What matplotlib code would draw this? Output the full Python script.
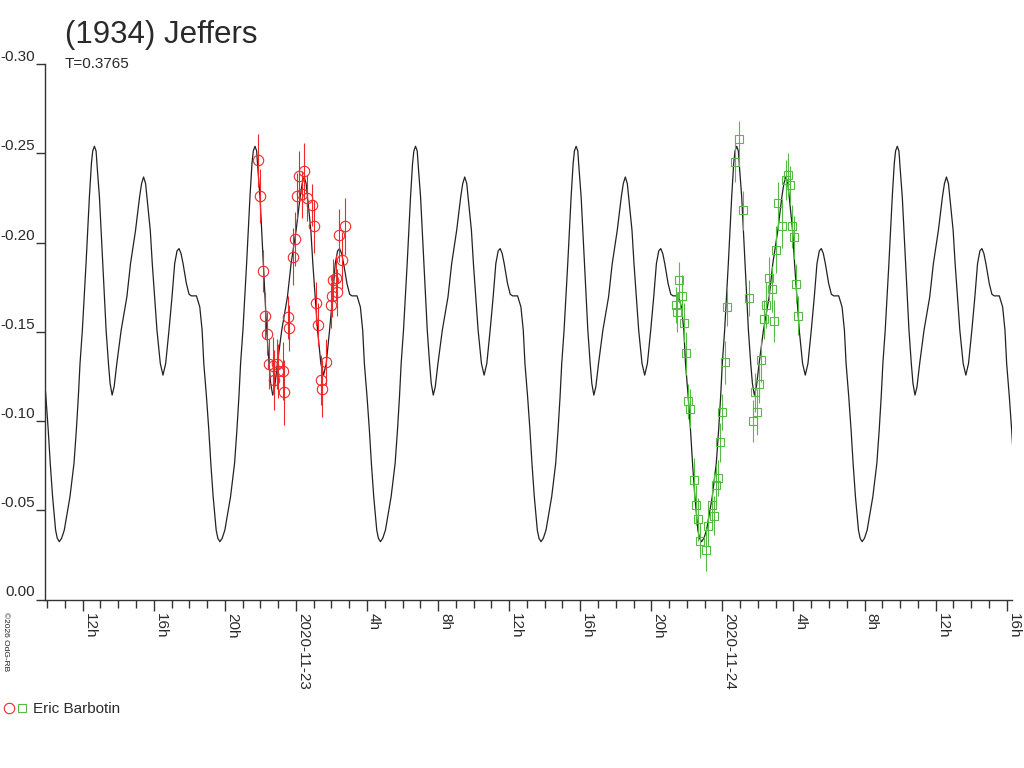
import numpy as np
import pandas as pd
import matplotlib
matplotlib.use("Agg")
import matplotlib.pyplot as plt
import matplotlib.dates as mdates
from matplotlib.ticker import FuncFormatter, FixedLocator
from matplotlib.legend_handler import HandlerTuple

plt.rcParams["font.family"] = ["Liberation Sans", "DejaVu Sans"]
plt.rcParams["axes.unicode_minus"] = False

# --- lightcurve model, one rotation cycle (phase 0 = main maximum)
period_days = 0.3765
t0_hours = 12.66  # hours after 2020-11-22 00:00 UT
cycle_phase = [0.0, 0.0104, 0.0188, 0.0313, 0.0521, 0.0729, 0.0875, 0.0979, 0.1104,
               0.1229, 0.1396, 0.1667, 0.2021, 0.2250, 0.2563, 0.2813, 0.2938, 0.3063,
               0.3188, 0.3271, 0.3479, 0.3604, 0.3750, 0.3896, 0.4104, 0.4271, 0.4438,
               0.4646, 0.4833, 0.5000, 0.5146, 0.5271, 0.5396, 0.5521, 0.5729, 0.5896,
               0.6042, 0.6354, 0.6563, 0.6708, 0.6813, 0.6979, 0.7125, 0.7250, 0.7396,
               0.7583, 0.7688, 0.7813, 0.7958, 0.8125, 0.8479, 0.8729, 0.8875, 0.9000,
               0.9104, 0.9250, 0.9479, 0.9688, 0.9813, 0.9896]
cycle_mag = [-0.2539, -0.2513, -0.2405, -0.2255, -0.1882, -0.1509, -0.1322, -0.1210, -0.1145,
             -0.1192, -0.1322, -0.1509, -0.1695, -0.1882, -0.2069, -0.2255, -0.2330, -0.2367,
             -0.2330, -0.2255, -0.2069, -0.1882, -0.1695, -0.1509, -0.1322, -0.1257, -0.1322,
             -0.1509, -0.1695, -0.1882, -0.1953, -0.1966, -0.1938, -0.1882, -0.1770, -0.1710,
             -0.1701, -0.1701, -0.1639, -0.1509, -0.1322, -0.1136, -0.0949, -0.0763, -0.0576,
             -0.0389, -0.0343, -0.0324, -0.0343, -0.0389, -0.0576, -0.0763, -0.0949, -0.1136,
             -0.1322, -0.1509, -0.1882, -0.2255, -0.2442, -0.2513]

# --- observations (hours after 2020-11-22 00:00 UT, relative mag, error)
red_hours = [21.88, 21.99, 22.13, 22.26, 22.35, 22.48, 22.73, 22.78, 22.92, 23.01, 23.29, 23.31,
             23.54, 23.63, 23.82, 23.95, 24.04, 24.17, 24.32, 24.44, 24.61, 24.89, 25.02, 25.11,
             25.26, 25.41, 25.48, 25.67, 25.97, 26.05, 26.10, 26.27, 26.31, 26.42, 26.58, 26.76]
red_mag = [-0.246, -0.226, -0.184, -0.159, -0.149, -0.132, -0.131, -0.123, -0.132, -0.128, -0.128, -0.116,
           -0.158, -0.152, -0.192, -0.202, -0.226, -0.237, -0.227, -0.240, -0.225, -0.221, -0.209, -0.166,
           -0.154, -0.123, -0.118, -0.133, -0.165, -0.170, -0.179, -0.180, -0.172, -0.204, -0.190, -0.209]
red_err = [0.015, 0.015, 0.012, 0.013, 0.012, 0.014, 0.016, 0.017, 0.014, 0.015, 0.016, 0.018,
           0.012, 0.013, 0.016, 0.015, 0.013, 0.014, 0.013, 0.016, 0.013, 0.012, 0.015, 0.012,
           0.012, 0.014, 0.016, 0.013, 0.013, 0.012, 0.012, 0.013, 0.013, 0.015, 0.016, 0.016]

green_hours = [45.37, 45.46, 45.57, 45.71, 45.84, 45.93, 46.05, 46.18, 46.40, 46.51, 46.61, 46.72,
               47.06, 47.17, 47.40, 47.53, 47.62, 47.73, 47.88, 47.99, 48.15, 48.26, 48.71, 48.94,
               49.14, 49.50, 49.72, 49.84, 49.95, 50.08, 50.19, 50.32, 50.45, 50.62, 50.77, 50.89,
               51.02, 51.11, 51.37, 51.56, 51.71, 51.82, 51.90, 52.03, 52.14, 52.25]
green_mag = [-0.165, -0.161, -0.179, -0.170, -0.155, -0.138, -0.111, -0.107, -0.067, -0.053, -0.045, -0.033,
             -0.028, -0.041, -0.053, -0.047, -0.064, -0.068, -0.088, -0.105, -0.133, -0.164, -0.245, -0.258,
             -0.218, -0.169, -0.100, -0.116, -0.105, -0.121, -0.134, -0.157, -0.165, -0.180, -0.174, -0.156,
             -0.196, -0.222, -0.209, -0.235, -0.238, -0.232, -0.209, -0.203, -0.177, -0.159]
green_err = [0.010, 0.011, 0.010, 0.012, 0.011, 0.012, 0.010, 0.011, 0.012, 0.011, 0.012, 0.010,
             0.012, 0.011, 0.010, 0.011, 0.012, 0.010, 0.011, 0.010, 0.012, 0.011, 0.011, 0.010,
             0.011, 0.010, 0.012, 0.011, 0.013, 0.011, 0.012, 0.011, 0.013, 0.012, 0.013, 0.012,
             0.013, 0.012, 0.012, 0.011, 0.012, 0.011, 0.012, 0.012, 0.011, 0.011]

x_start_hours = 9.88
x_end_hours = 64.28

base = pd.Timestamp("2020-11-22 00:00")
def to_time(hours):
    return base + pd.to_timedelta(np.asarray(hours, dtype=float), unit="h")

# tile the cycle over the plotted window
period_h = period_days * 24
model_h = []
model_m = []
for k in range(-1, 7):
    for ph, m in zip(cycle_phase, cycle_mag):
        model_h.append(t0_hours + (ph + k) * period_h)
        model_m.append(m)

red = "#f02828"
green = "#55bb44"
txt = "#2a2a2a"

fig = plt.figure(figsize=(10.24, 7.68), dpi=100)
ax = fig.add_axes([45 / 1024, 1 - 599.5 / 768, 966.7 / 1024, 535.5 / 768])

ax.plot(to_time(model_h), model_m, color="#222222", lw=0.9, zorder=1)
ax.errorbar(to_time(red_hours), red_mag, yerr=red_err, fmt="o", ms=7.5, mfc="none", mec=red,
            mew=0.8, ecolor=red, elinewidth=0.8, capsize=0, zorder=3)
ax.errorbar(to_time(green_hours), green_mag, yerr=green_err, fmt="s", ms=5.5, mfc="none", mec=green,
            mew=0.8, ecolor=green, elinewidth=0.8, capsize=0, zorder=3)

ax.set_xlim(to_time([x_start_hours])[0], to_time([x_end_hours])[0])
ax.set_ylim(0, -0.30)

for s in ["top", "right"]:
    ax.spines[s].set_visible(False)
for s in ["left", "bottom"]:
    ax.spines[s].set_color("#333333")
    ax.spines[s].set_linewidth(1.0)

ax.xaxis.set_major_locator(mdates.HourLocator(byhour=range(0, 24, 4)))
ax.xaxis.set_minor_locator(mdates.HourLocator())

def hour_fmt(x, pos):
    d = mdates.num2date(x)
    if d.hour == 0:
        return d.strftime("%Y-%m-%d")
    return f"{d.hour}h"

ax.xaxis.set_major_formatter(FuncFormatter(hour_fmt))
ax.yaxis.set_major_locator(FixedLocator([0, -0.05, -0.10, -0.15, -0.20, -0.25, -0.30]))
ax.yaxis.set_major_formatter(FuncFormatter(lambda v, p: f"{v:.2f}" if abs(v) > 1e-9 else "0.00"))

ax.tick_params(axis="x", which="major", length=8, width=1, color="#333333", pad=1.5,
               labelsize=11, labelcolor=txt)
ax.tick_params(axis="x", which="minor", length=5.5, width=1, color="#333333")
ax.tick_params(axis="y", which="major", length=6.5, width=1, color="#333333", pad=0.5,
               labelsize=11, labelcolor=txt)
for lab in ax.get_xticklabels():
    lab.set_rotation(-90)
    lab.set_ha("left")
    lab.set_va("top")
for lab in ax.get_yticklabels():
    lab.set_va("bottom")

fig.text(65 / 1024, 1 - 43 / 768, "(1934) Jeffers", fontsize=22.5, color=txt, va="baseline")
fig.text(65 / 1024, 1 - 68 / 768, "T=0.3765", fontsize=11, color=txt, va="baseline")
fig.text(2 / 1024, 1 - 612 / 768, "\u00a92026 OdG-RB", fontsize=6, rotation=-90,
         ha="left", va="top", color="#222222")

h_red, = ax.plot([], [], "o", ms=7.5, mfc="none", mec=red, mew=0.8)
h_green, = ax.plot([], [], "s", ms=5.5, mfc="none", mec=green, mew=0.8)
fig.legend([(h_red, h_green)], ["Eric Barbotin"], handler_map={tuple: HandlerTuple(ndivide=None, pad=0.1)},
           loc="center left", bbox_to_anchor=(4 / 1024, 1 - 709 / 768), frameon=False, fontsize=11,
           borderpad=0, borderaxespad=0, handlelength=1.5, handletextpad=0.4, labelcolor=txt)

fig.savefig("out.png", dpi=100)
